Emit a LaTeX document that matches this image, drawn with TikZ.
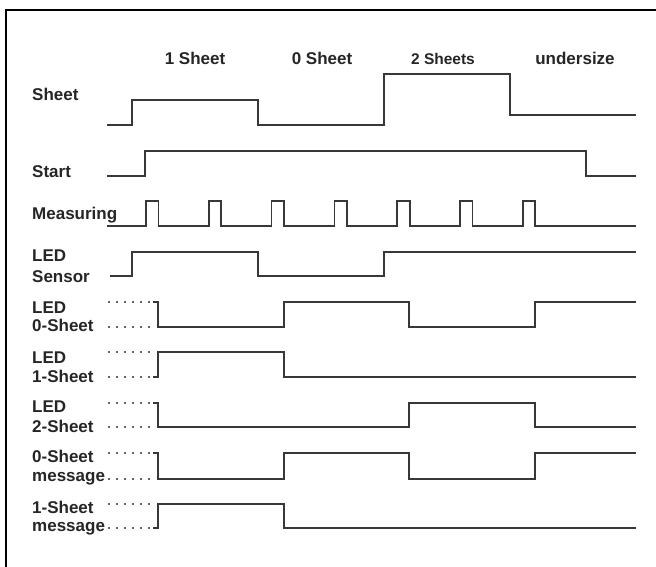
\documentclass[tikz,border=0pt]{standalone}
\usepackage{fontspec}
\setmainfont{Liberation Sans}
\begin{document}
\begin{tikzpicture}[x=1pt,y=-1pt,
  wave/.style={draw=black!78, line width=1.7pt, line join=miter},
  dotline/.style={draw=black!60, line width=1.5pt, dash pattern=on 1.5pt off 6.5pt},
  lab/.style={anchor=base west, inner sep=0pt, font=\bfseries\fontsize{17}{19}\selectfont, text=black!85},
  col/.style={anchor=base, inner sep=0pt, font=\bfseries\fontsize{17}{19}\selectfont, text=black!85},
  frame/.style={draw=black, line width=2pt}]
\useasboundingbox (0,0) rectangle (656,567);
\fill[white] (0,0) rectangle (656,567);
\draw[frame] (6,567) -- (6,10) -- (656,10);
% column labels
\node[col] (c1) at (195,65) {1 Sheet};
\node[col] (c0) at (322,65) {0 Sheet};
\node[col, font=\bfseries\fontsize{15.5}{18}\selectfont] (c2) at (443,65) {2 Sheets};
\node[col] (cu) at (575,65) {undersize};
% row labels
\node[lab] (lsheet) at (32,101) {Sheet};
\node[lab] (lstart) at (32,177) {Start};
\node[lab] (lmeas) at (32,219) {Measuring};
\node[lab] (lsen1) at (32,261) {LED};
\node[lab] (lsen2) at (32,282) {Sensor};
\node[lab] (lz1) at (32,313) {LED};
\node[lab] (lz2) at (32,331) {0-Sheet};
\node[lab] (lo1) at (32,363) {LED};
\node[lab] (lo2) at (32,382) {1-Sheet};
\node[lab] (lt1) at (32,412) {LED};
\node[lab] (lt2) at (32,432) {2-Sheet};
\node[lab] (lzm1) at (32,462) {0-Sheet};
\node[lab] (lzm2) at (32,481) {message};
\node[lab] (lom1) at (32,513) {1-Sheet};
\node[lab] (lom2) at (32,531) {message};
% waves
\draw[wave] (107,125) -- (132,125) -- (132,100) -- (258,100) -- (258,125) -- (384,125) -- (384,74) -- (510,74) -- (510,115) -- (636,115);
\draw[wave] (107,176) -- (145,176) -- (145,151) -- (586,151) -- (586,176) -- (636,176);
\draw[wave] (107,226) \foreach \k in {0,...,6}{ -- ({146+62.8*\k},226) -- ({146+62.8*\k},201) -- ({158.5+62.8*\k},201) -- ({158.5+62.8*\k},226)} -- (636,226);
\draw[wave] (110,276) -- (132,276) -- (132,252) -- (258,252) -- (258,276) -- (384,276) -- (384,252) -- (636,252);
% dotted lead-ins
\foreach \t/\b in {302/327, 352/377, 403/427, 453/479, 504/528}{
  \draw[dotline] (108,\t) -- (152,\t);
  \draw[dotline] (108,\b) -- (152,\b);
}
\draw[wave] (153,302) -- (158,302) -- (158,327) -- (284,327) -- (284,302) -- (409,302) -- (409,327) -- (535,327) -- (535,302) -- (636,302);
\draw[wave] (153,377) -- (158,377) -- (158,352) -- (284,352) -- (284,377) -- (636,377);
\draw[wave] (153,403) -- (158,403) -- (158,427) -- (409,427) -- (409,403) -- (535,403) -- (535,427) -- (636,427);
\draw[wave] (153,453) -- (158,453) -- (158,479) -- (284,479) -- (284,453) -- (409,453) -- (409,479) -- (535,479) -- (535,453) -- (636,453);
\draw[wave] (153,528) -- (158,528) -- (158,504) -- (284,504) -- (284,528) -- (636,528);
\end{tikzpicture}
\end{document}
